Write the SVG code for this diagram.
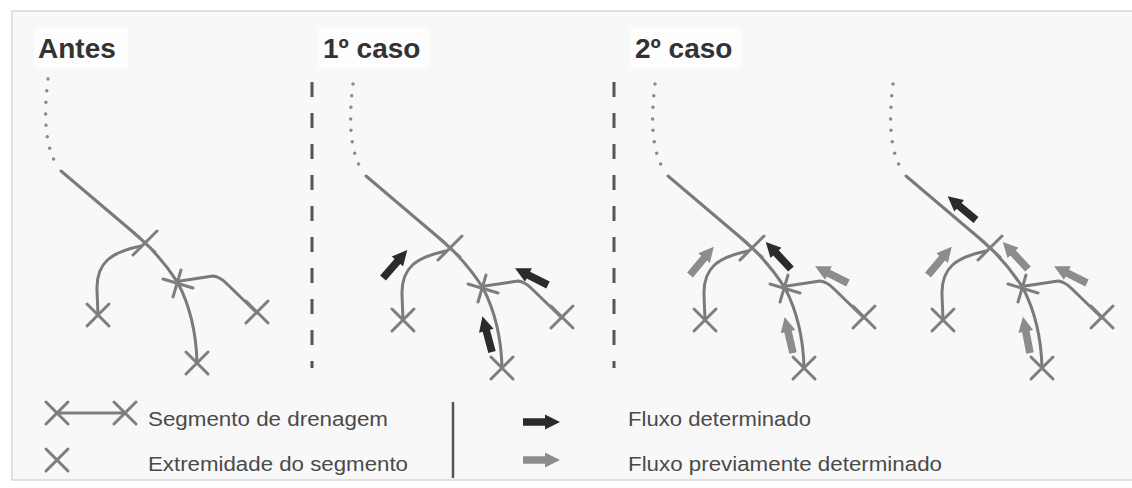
<svg xmlns="http://www.w3.org/2000/svg" xmlns:xlink="http://www.w3.org/1999/xlink" width="1132" height="488" viewBox="0 0 1132 488">
<style>
.stream{fill:none;stroke:#7a7a7a;stroke-width:3;stroke-linecap:round;stroke-linejoin:round}
.dots{fill:none;stroke:#8a8a8a;stroke-width:3.5;stroke-linecap:round;stroke-dasharray:0 11.6}
.xm{stroke:#7e7e7e;stroke-width:3;stroke-linecap:round}
.div{stroke:#555;stroke-width:3;stroke-dasharray:15 16}
.title{font-family:"Liberation Sans",Arial,sans-serif;font-weight:bold;font-size:28px;fill:#333}
.leg{font-family:"Liberation Sans",Arial,sans-serif;font-size:20px;fill:#4a4a4a}
.dark{fill:#2b2b2b}
.gray{fill:#8c8c8c}
</style>
<defs>
<g id="xmark"><line class="xm" x1="-11" y1="-11" x2="11" y2="11"/><line class="xm" x1="-11" y1="11" x2="11" y2="-11"/></g>
<g id="xjunc1"><line class="xm" x1="-12" y1="12" x2="12" y2="-12"/><line class="xm" x1="-10" y1="-9" x2="10" y2="9"/></g>
<g id="xjunc2"><line class="xm" x1="-15" y1="-4" x2="15" y2="5"/><line class="xm" x1="3" y1="-13" x2="-5" y2="14"/></g>
<path id="arr" d="M0,-3.8 L22,-3.8 L22,-7.5 L37,0 L22,7.5 L22,3.8 L0,3.8 Z"/>
<g id="net">
<path class="dots" d="M48,79 C44,112 44,142 56,164"/>
<path class="stream" d="M61,171 L140,238 Q162,258 178,283"/>
<path class="stream" d="M178,283 Q196,318 197,363"/>
<path class="stream" d="M141,246 C112,252 96,262 97,290 L98,315"/>
<path class="stream" d="M180,281 L213,276 Q220,277 226,283 L257,313"/>
</g>
<g id="nodes">
<use xlink:href="#xjunc1" x="145" y="243"/>
<use xlink:href="#xjunc2" x="178" y="283"/>
<use xlink:href="#xmark" x="98" y="315"/>
<use xlink:href="#xmark" x="197" y="363"/>
<use xlink:href="#xmark" x="257" y="312"/>
</g>
</defs>

<rect x="0" y="0" width="1132" height="488" fill="#ffffff"/>
<rect x="12" y="11" width="1122" height="469" fill="#f8f8f8" stroke="#d8d8d8" stroke-width="1.5"/>
<rect x="34" y="28" width="94" height="40" fill="#fdfdfd"/>
<rect x="318" y="28" width="112" height="40" fill="#fdfdfd"/>
<rect x="630" y="28" width="112" height="40" fill="#fdfdfd"/>

<g id="titles">
<text class="title" x="38" y="58">Antes</text>
<text class="title" x="323" y="58">1º caso</text>
<text class="title" x="635" y="58">2º caso</text>
</g>

<g id="dividers">
<line class="div" x1="312" y1="82" x2="312" y2="368"/>
<line class="div" x1="614" y1="82" x2="614" y2="368"/>
</g>

<g id="connectors">
<use xlink:href="#net"/>
<use xlink:href="#net" transform="translate(305,5)"/>
<use xlink:href="#net" transform="translate(607,5)"/>
<use xlink:href="#net" transform="translate(845,5)"/>
</g>

<g id="panel-antes"><use xlink:href="#nodes"/></g>

<g id="panel-caso1" transform="translate(305,5)">
<use xlink:href="#nodes"/>
<use xlink:href="#arr" class="dark" transform="translate(78,273) rotate(-49)"/>
<use xlink:href="#arr" class="dark" transform="translate(243,280) rotate(-153)"/>
<use xlink:href="#arr" class="dark" transform="translate(187,347) rotate(-105)"/>
</g>

<g id="panel-caso2a" transform="translate(607,5)">
<use xlink:href="#nodes"/>
<use xlink:href="#arr" class="gray" transform="translate(83,270) rotate(-50)"/>
<use xlink:href="#arr" class="gray" transform="translate(241,278) rotate(-153)"/>
<use xlink:href="#arr" class="gray" transform="translate(186,348) rotate(-103)"/>
<use xlink:href="#arr" class="dark" transform="translate(184,264) rotate(-133)"/>
</g>

<g id="panel-caso2b" transform="translate(845,5)">
<use xlink:href="#nodes"/>
<use xlink:href="#arr" class="gray" transform="translate(83,270) rotate(-50)"/>
<use xlink:href="#arr" class="gray" transform="translate(242,278) rotate(-153)"/>
<use xlink:href="#arr" class="gray" transform="translate(185,348) rotate(-101)"/>
<use xlink:href="#arr" class="gray" transform="translate(183,264) rotate(-133)"/>
<use xlink:href="#arr" class="dark" transform="translate(131,215) rotate(-140)"/>
</g>

<g id="legend">
<line class="xm" x1="57" y1="413" x2="125" y2="413" stroke-width="2.5"/>
<use xlink:href="#xmark" x="57" y="413"/>
<use xlink:href="#xmark" x="125" y="413"/>
<use xlink:href="#xmark" x="57" y="460"/>
<text class="leg" x="148" y="426" textLength="240" lengthAdjust="spacingAndGlyphs">Segmento de drenagem</text>
<text class="leg" x="148" y="471" textLength="260" lengthAdjust="spacingAndGlyphs">Extremidade do segmento</text>
<line x1="453" y1="402" x2="453" y2="478" stroke="#555" stroke-width="2.5"/>
<use xlink:href="#arr" class="dark" transform="translate(523,422)"/>
<use xlink:href="#arr" class="gray" transform="translate(523,460)"/>
<text class="leg" x="628" y="426" textLength="183" lengthAdjust="spacingAndGlyphs">Fluxo determinado</text>
<text class="leg" x="628" y="471" textLength="314" lengthAdjust="spacingAndGlyphs">Fluxo previamente determinado</text>
</g>
</svg>
